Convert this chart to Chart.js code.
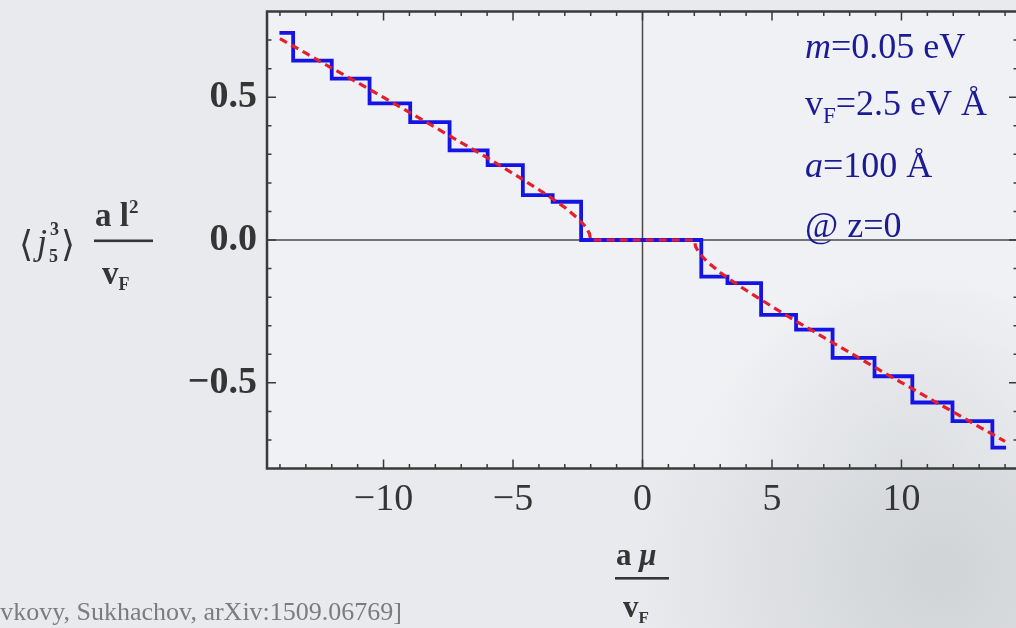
<!DOCTYPE html>
<html>
<head>
<meta charset="utf-8">
<title>Axial current density vs chemical potential</title>
<script src="https://cdn.jsdelivr.net/npm/chart.js@4.4.1/dist/chart.umd.min.js"></script>
<style>
  html, body { margin: 0; padding: 0; overflow: hidden; background: #e9ebee; }
  #wrap { position: relative; width: 1030px; height: 628px; }
  canvas { display: block; }
</style>
</head>
<body>
<div id="wrap"><canvas id="c" width="1030" height="628"></canvas></div>
<script>
// Step profile of the axial current (threshold positions and plateau levels)
const stepX = [-14.02, -13.49, -12.0, -10.54, -8.97, -7.45, -5.98, -4.62, -3.47, -2.37,
               2.27, 3.28, 4.58, 5.93, 7.34, 8.96, 10.42, 11.97, 13.51, 14.04];
const stepY = [0.725, 0.628, 0.565, 0.478, 0.413, 0.314, 0.262, 0.157, 0.134, 0.0,
               -0.128, -0.151, -0.262, -0.314, -0.413, -0.477, -0.569, -0.634, -0.727, -0.727];

// Smooth (dashed) curve
const dashX = [-14, -13, -12, -11, -10, -9, -8, -7, -6, -5, -4, -3.5, -3, -2.5, -2.2, -2.05, -2,
               2, 2.05, 2.2, 2.5, 3, 3.5, 4, 5, 6, 7, 8, 9, 10, 11, 12, 13, 14];
const dashY = [0.705, 0.654, 0.602, 0.551, 0.499, 0.447, 0.394, 0.341, 0.288, 0.233, 0.176, 0.146,
               0.114, 0.076, 0.047, 0.023, 0, 0, -0.023, -0.047, -0.076, -0.114, -0.146, -0.176,
               -0.233, -0.288, -0.341, -0.394, -0.447, -0.499, -0.551, -0.602, -0.654, -0.705];

// Axis labels and tick marks
const xTickLabels = [-10, -5, 0, 5, 10];
const yTickLabels = [-0.5, 0, 0.5];
const xMinorTicks = [-14,-13,-12,-11,-10,-9,-8,-7,-6,-5,-4,-3,-2,-1,0,1,2,3,4,5,6,7,8,9,10,11,12,13,14];
const yMinorTicks = [-0.7,-0.6,-0.5,-0.4,-0.3,-0.2,-0.1,0,0.1,0.2,0.3,0.4,0.5,0.6,0.7];

const SERIF = '"Liberation Serif", "DejaVu Serif", serif';
const fmtX = v => (v < 0 ? '\u2212' : '') + Math.abs(v);
const fmtY = v => (v < 0 ? '\u2212' : '') + Math.abs(v).toFixed(1);

function drawRuns(ctx, x, y, runs) {
  let cx = x;
  for (const r of runs) {
    ctx.font = r.font;
    ctx.fillText(r.text, cx, y + (r.dy || 0));
    cx += ctx.measureText(r.text).width + (r.gap || 0);
  }
  return cx;
}

const framePlugin = {
  id: 'frame',
  beforeDraw(chart) {
    const ctx = chart.ctx, a = chart.chartArea;
    ctx.save();
    // page background
    ctx.fillStyle = '#e8eaed';
    ctx.fillRect(0, 0, chart.width, chart.height);
    const g = ctx.createRadialGradient(940, 570, 20, 940, 570, 300);
    g.addColorStop(0, 'rgba(188,191,195,0.5)');
    g.addColorStop(1, 'rgba(188,191,195,0)');
    ctx.fillStyle = g;
    ctx.fillRect(0, 0, chart.width, chart.height);
    // plot panel
    ctx.fillStyle = 'rgba(242,243,245,0.75)';
    ctx.fillRect(a.left, a.top, a.right - a.left, a.bottom - a.top);
    const g2 = ctx.createRadialGradient(910, 470, 10, 910, 470, 200);
    g2.addColorStop(0, 'rgba(200,203,207,0.4)');
    g2.addColorStop(1, 'rgba(200,203,207,0)');
    ctx.fillStyle = g2;
    ctx.fillRect(a.left, a.top, a.right - a.left, a.bottom - a.top);
    // zero axes
    const xs = chart.scales.x, ys = chart.scales.y;
    ctx.strokeStyle = '#4a4a4a';
    ctx.lineWidth = 1.5;
    ctx.beginPath();
    const x0 = xs.getPixelForValue(0), y0 = ys.getPixelForValue(0);
    ctx.moveTo(x0, a.top); ctx.lineTo(x0, a.bottom);
    ctx.moveTo(a.left, y0); ctx.lineTo(a.right, y0);
    ctx.stroke();
    ctx.restore();
  },
  afterDraw(chart) {
    const ctx = chart.ctx, a = chart.chartArea;
    const xs = chart.scales.x, ys = chart.scales.y;
    ctx.save();
    // frame
    ctx.strokeStyle = '#3a3a3a';
    ctx.lineWidth = 2.5;
    ctx.strokeRect(a.left, a.top, a.right - a.left, a.bottom - a.top);
    // inward ticks on all four sides
    ctx.lineWidth = 1.5;
    ctx.beginPath();
    for (const v of xMinorTicks) {
      const px = xs.getPixelForValue(v);
      const len = xTickLabels.includes(v) ? 9 : 4.5;
      ctx.moveTo(px, a.bottom); ctx.lineTo(px, a.bottom - len);
      ctx.moveTo(px, a.top); ctx.lineTo(px, a.top + len);
    }
    for (const v of yMinorTicks) {
      const py = ys.getPixelForValue(v);
      const len = yTickLabels.some(t => Math.abs(t - v) < 1e-9) ? 9 : 4.5;
      ctx.moveTo(a.left, py); ctx.lineTo(a.left + len, py);
      ctx.moveTo(a.right, py); ctx.lineTo(a.right - len, py);
    }
    ctx.stroke();

    // y-axis title: <j5^3> a l^2 / vF
    ctx.fillStyle = '#353535';
    ctx.textBaseline = 'alphabetic';
    ctx.textAlign = 'left';
    ctx.font = '36px ' + SERIF;
    ctx.fillText('\u27E8', 19, 256);
    ctx.font = 'italic 36px ' + SERIF;
    ctx.fillText('j', 37, 254);
    ctx.font = 'bold 18px ' + SERIF;
    ctx.fillText('3', 50, 235);
    ctx.fillText('5', 49, 262);
    ctx.font = '36px ' + SERIF;
    ctx.fillText('\u27E9', 61, 256);
    drawRuns(ctx, 95, 226, [
      { text: 'a l', font: 'bold 33px ' + SERIF },
      { text: '2', font: 'bold 19px ' + SERIF, dy: -13 }
    ]);
    ctx.fillRect(94, 239.5, 59, 2.6);
    drawRuns(ctx, 102, 284, [
      { text: 'v', font: 'bold 33px ' + SERIF },
      { text: 'F', font: 'bold 18px ' + SERIF, dy: 6 }
    ]);

    // x-axis title: a mu / vF
    drawRuns(ctx, 616, 565, [
      { text: 'a ', font: 'bold 31px ' + SERIF },
      { text: '\u03BC', font: 'bold italic 31px ' + SERIF }
    ]);
    ctx.fillRect(615, 577, 54, 2.6);
    drawRuns(ctx, 623, 617, [
      { text: 'v', font: 'bold 31px ' + SERIF },
      { text: 'F', font: 'bold 17px ' + SERIF, dy: 6 }
    ]);

    // parameter block
    ctx.fillStyle = '#1b1b96';
    drawRuns(ctx, 805, 58, [
      { text: 'm', font: 'italic 36px ' + SERIF },
      { text: '=0.05 eV', font: '36px ' + SERIF }
    ]);
    drawRuns(ctx, 805, 115, [
      { text: 'v', font: '36px ' + SERIF },
      { text: 'F', font: '23px ' + SERIF, dy: 8 },
      { text: '=2.5 eV \u00C5', font: '36px ' + SERIF }
    ]);
    drawRuns(ctx, 805, 177, [
      { text: 'a', font: 'italic 36px ' + SERIF },
      { text: '=100 \u00C5', font: '36px ' + SERIF }
    ]);
    drawRuns(ctx, 805, 237, [
      { text: '@ z=0', font: '36px ' + SERIF }
    ]);

    // reference line
    ctx.fillStyle = '#7c7c7c';
    ctx.textAlign = 'right';
    ctx.font = '26px ' + SERIF;
    ctx.fillText('[Gorbar, Miransky, Shovkovy, Sukhachov, arXiv:1509.06769]', 402, 620);
    ctx.restore();
  }
};

const chart = new Chart(document.getElementById('c'), {
  type: 'line',
  data: {
    datasets: [
      {
        label: 'steps',
        data: stepX.map((x, i) => ({ x, y: stepY[i] })),
        stepped: 'before',
        borderColor: '#1414e4',
        borderWidth: 3.8,
        pointRadius: 0,
        fill: false,
        order: 1
      },
      {
        label: 'smooth',
        data: dashX.map((x, i) => ({ x, y: dashY[i] })),
        borderColor: '#e61e2c',
        borderWidth: 3.2,
        borderDash: [8, 5],
        pointRadius: 0,
        tension: 0,
        fill: false,
        order: 0
      }
    ]
  },
  options: {
    responsive: false,
    animation: false,
    events: [],
    layout: { padding: { left: 0, right: 12, top: 11.5, bottom: 79.5 } },
    plugins: { legend: { display: false }, tooltip: { enabled: false } },
    scales: {
      x: {
        type: 'linear',
        min: -14.5,
        max: 14.5,
        grid: { display: false, drawTicks: false },
        border: { display: false },
        afterFit: s => { s.height = 80; s.paddingLeft = 0; s.paddingRight = 0; },
        afterBuildTicks: s => { s.ticks = xTickLabels.map(v => ({ value: v })); },
        ticks: {
          padding: 9,
          color: '#353535',
          font: { family: SERIF, size: 38 },
          callback: v => fmtX(v),
          maxRotation: 0,
          autoSkip: false
        }
      },
      y: {
        type: 'linear',
        min: -0.8,
        max: 0.8,
        grid: { display: false, drawTicks: false },
        border: { display: false },
        afterFit: s => { s.width = 267; s.paddingTop = 0; s.paddingBottom = 0; },
        afterBuildTicks: s => { s.ticks = yTickLabels.map(v => ({ value: v })); },
        ticks: {
          padding: 10,
          color: '#353535',
          font: { family: SERIF, size: 38, weight: 'bold' },
          callback: v => fmtY(v),
          autoSkip: false
        }
      }
    }
  },
  plugins: [framePlugin]
});
</script>
</body>
</html>
